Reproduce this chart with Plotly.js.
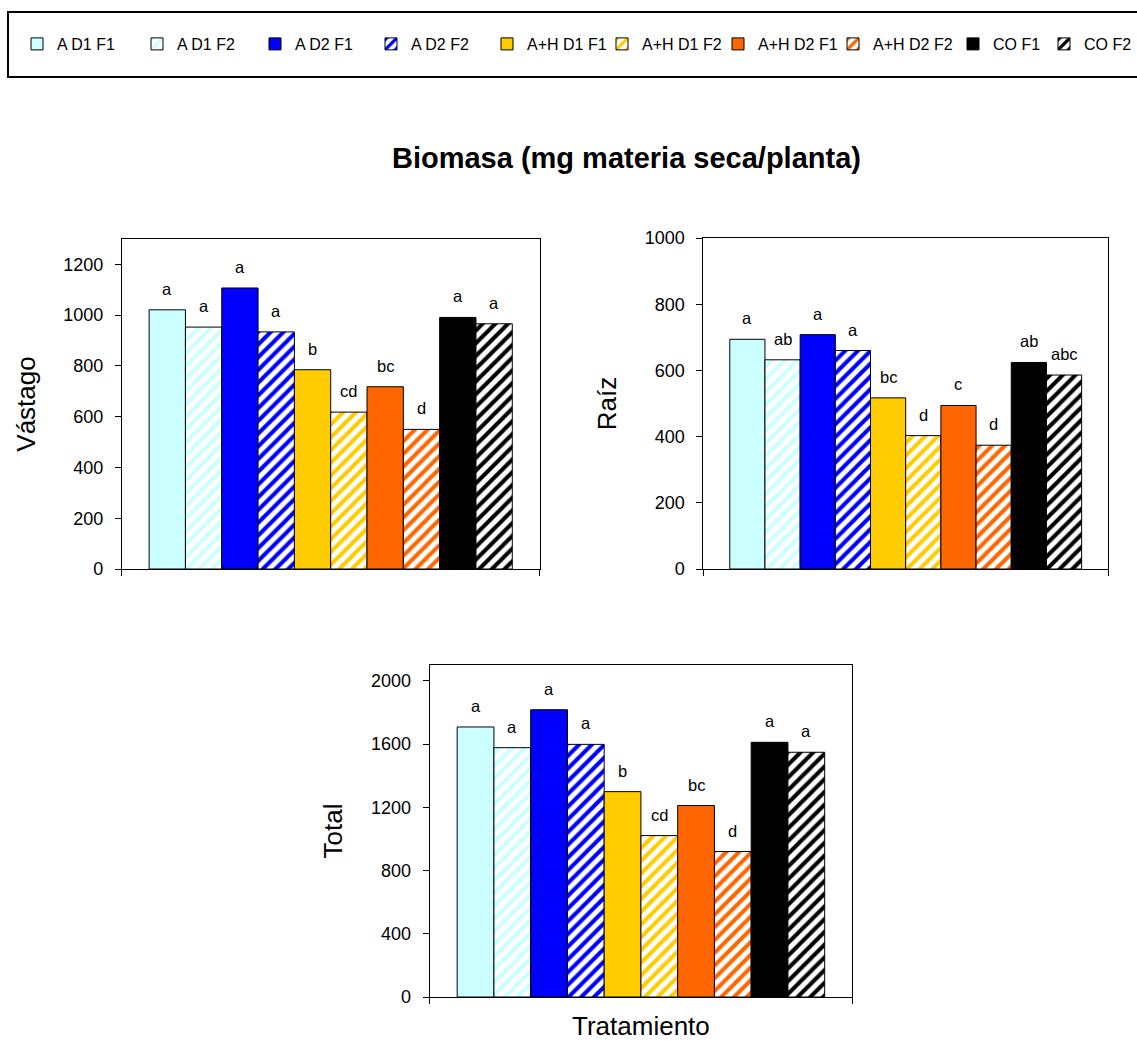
<!DOCTYPE html>
<html>
<head>
<meta charset="utf-8">
<script src="https://cdn.plot.ly/plotly-3.0.1.min.js"></script>
<style>html,body{margin:0;padding:0;background:#fff;}#chart{width:1137px;height:1041px;}</style>
</head>
<body>
<div id="chart"></div>
<script>
// ---- data ----
const names = ["A D1 F1", "A D1 F2", "A D2 F1", "A D2 F2", "A+H D1 F1", "A+H D1 F2", "A+H D2 F1", "A+H D2 F2", "CO F1", "CO F2"];
const vastago = [1021, 953, 1107, 934, 785, 618, 718, 550, 991, 966];
const raiz = [694, 632, 708, 660, 517, 403, 494, 374, 624, 586];
const total = [1708, 1577, 1817, 1598, 1299, 1021, 1211, 920, 1611, 1548];
const lettersVastago = ["a", "a", "a", "a", "b", "cd", "bc", "d", "a", "a"];
const lettersRaiz = ["a", "ab", "a", "a", "bc", "d", "c", "d", "ab", "abc"];
const lettersTotal = ["a", "a", "a", "a", "b", "cd", "bc", "d", "a", "a"];

// ---- styles ----
const colors = ["#CCFFFF", "#CCFFFF", "#0000FF", "#0000FF", "#FFCC00", "#FFCC00", "#FF6600", "#FF6600", "#000000", "#000000"];
const hatched = [false, true, false, true, false, true, false, true, false, true];
const W = 1137, H = 1041;
const FONT = 'Arial, "Liberation Sans", sans-serif';
const legendTextX = [57, 177, 295, 411, 527, 642, 758, 873, 993, 1085];

function legendKey(i) { return i === 0 ? 'legend' : 'legend' + (i + 1); }

function makeTraces(vals, xa, ya, showLegend) {
  return names.map((n, i) => ({
    type: 'bar',
    x: [n],
    y: [vals[i]],
    name: n,
    xaxis: xa,
    yaxis: ya,
    legend: legendKey(i),
    legendgroup: n,
    showlegend: showLegend,
    hoverinfo: 'skip',
    marker: {
      color: hatched[i] ? '#FFFFFF' : colors[i],
      line: { color: '#000000', width: 1 },
      pattern: hatched[i]
        ? { shape: '/', fgcolor: colors[i], bgcolor: '#FFFFFF', size: 9, solidity: 0.45 }
        : { shape: '' }
    }
  }));
}

function makeLetters(vals, letters, xa, ya) {
  return names.map((n, i) => ({
    xref: xa, yref: ya,
    x: n, y: vals[i],
    text: letters[i],
    showarrow: false,
    yanchor: 'bottom',
    yshift: 10,
    font: { family: FONT, size: 16.5, color: '#000' }
  }));
}

const data = [].concat(
  makeTraces(vastago, 'x', 'y', true),
  makeTraces(raiz, 'x2', 'y2', false),
  makeTraces(total, 'x3', 'y3', false)
);

function xAxis(domain, anchor, title) {
  const ax = {
    domain: domain,
    anchor: anchor,
    type: 'category',
    categoryorder: 'array',
    categoryarray: names,
    range: [-1.25, 10.25],
    showticklabels: false,
    tickmode: 'array',
    tickvals: [-1.25, 10.25],
    ticks: 'outside',
    ticklen: 6,
    tickcolor: '#000',
    showline: true,
    linecolor: '#000',
    linewidth: 1,
    mirror: true,
    showgrid: false,
    zeroline: false,
    automargin: false,
    fixedrange: true
  };
  if (title) ax.title = { text: title, font: { family: FONT, size: 26, color: '#000' } };
  return ax;
}

function yAxis(domain, anchor, range, dtick, title) {
  return {
    domain: domain,
    anchor: anchor,
    range: range,
    dtick: dtick,
    tick0: 0,
    ticks: 'outside',
    ticklen: 6,
    tickcolor: '#000',
    ticklabelstandoff: 8,
    tickfont: { family: FONT, size: 18, color: '#000' },
    showline: true,
    linecolor: '#000',
    linewidth: 1,
    mirror: true,
    showgrid: false,
    zeroline: false,
    fixedrange: true,
    automargin: false,
    title: { text: title, standoff: 20, font: { family: FONT, size: 26, color: '#000' } }
  };
}

const layout = {
  width: W,
  height: H,
  margin: { l: 0, r: 0, t: 0, b: 0 },
  paper_bgcolor: '#ffffff',
  plot_bgcolor: '#ffffff',
  font: { family: FONT, color: '#000' },
  barmode: 'overlay',
  bargap: 0,
  title: {
    text: '<b>Biomasa (mg materia seca/planta)</b>',
    font: { family: FONT, size: 29, color: '#000' },
    x: 627 / W, xanchor: 'center', xref: 'paper',
    y: 1 - 158 / H, yanchor: 'middle', yref: 'container'
  },
  xaxis: xAxis([122 / W, 540 / W], 'y'),
  yaxis: yAxis([1 - 569 / H, 1 - 239 / H], 'x', [0, 1300], 200, 'Vástago'),
  xaxis2: xAxis([704 / W, 1109 / W], 'y2'),
  yaxis2: yAxis([1 - 569 / H, 1 - 238 / H], 'x2', [0, 1000], 200, 'Raíz'),
  xaxis3: xAxis([430 / W, 853 / W], 'y3', 'Tratamiento'),
  yaxis3: yAxis([1 - 997 / H, 1 - 665 / H], 'x3', [0, 2100], 400, 'Total'),
  annotations: [].concat(
    makeLetters(vastago, lettersVastago, 'x', 'y'),
    makeLetters(raiz, lettersRaiz, 'x2', 'y2'),
    makeLetters(total, lettersTotal, 'x3', 'y3')
  ),
  shapes: [{
    type: 'rect', xref: 'paper', yref: 'paper',
    x0: 8 / W, x1: 1.02, y0: 1 - 77 / H, y1: 1 - 12 / H,
    line: { color: '#000', width: 2 }, fillcolor: 'rgba(0,0,0,0)'
  }]
};

names.forEach((n, i) => {
  layout[legendKey(i)] = {
    x: (legendTextX[i] - 40) / W,
    xanchor: 'left',
    y: 1 - 44 / H,
    yanchor: 'middle',
    orientation: 'h',
    bgcolor: 'rgba(0,0,0,0)',
    borderwidth: 0,
    font: { family: FONT, size: 16, color: '#000' }
  };
});

Plotly.newPlot('chart', data, layout, { displayModeBar: false, staticPlot: true });
</script>
</body>
</html>
